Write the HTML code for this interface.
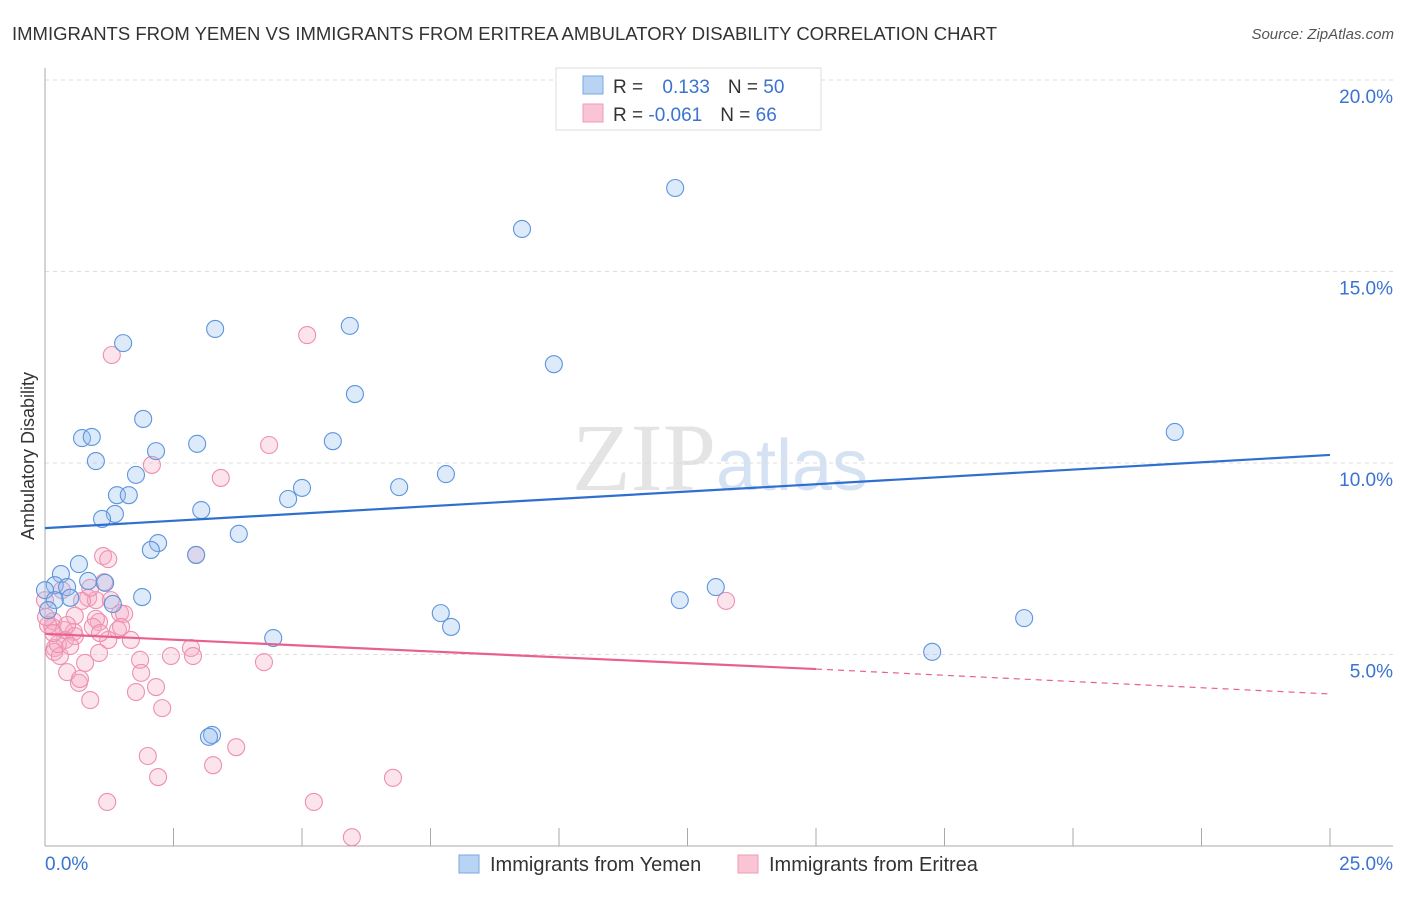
<!DOCTYPE html>
<html><head><meta charset="utf-8"><style>
body{margin:0;background:#fff;font-family:"Liberation Sans",sans-serif;}
</style></head><body>
<svg id="chart" width="1406" height="892" xmlns="http://www.w3.org/2000/svg" font-family="Liberation Sans, sans-serif">
<text x="12" y="40" font-size="18.5" fill="#333">IMMIGRANTS FROM YEMEN VS IMMIGRANTS FROM ERITREA AMBULATORY DISABILITY CORRELATION CHART</text>
<text x="1394" y="39" font-size="15" fill="#555" font-style="italic" text-anchor="end">Source: ZipAtlas.com</text>
<text x="720" y="490" font-size="96" fill="#e4e4e4" text-anchor="middle" font-family="Liberation Serif, serif">ZIP<tspan fill="#d5e2f3" font-family="Liberation Sans, sans-serif" font-size="72">atlas</tspan></text>
<text transform="translate(34,456) rotate(-90)" font-size="18" fill="#333" text-anchor="middle">Ambulatory Disability</text>
<g id="grid"></g><g id="axes"></g><g id="marks"></g>
<g>
<rect x="556" y="68" width="265" height="62" fill="#fff" stroke="#ddd"/>
<rect x="583" y="76" width="20" height="18" fill="#b8d3f3" stroke="#7aa8e0"/>
<rect x="583" y="104" width="20" height="18" fill="#f9c5d4" stroke="#f09ab5"/>
<text x="613" y="93" font-size="19" fill="#333">R = <tspan fill="#3a73d0" dx="14">0.133</tspan><tspan dx="18" fill="#333">N = </tspan><tspan fill="#3a73d0">50</tspan></text>
<text x="613" y="121" font-size="19" fill="#333">R = <tspan fill="#3a73d0">-0.061</tspan><tspan dx="18" fill="#333">N = </tspan><tspan fill="#3a73d0">66</tspan></text>
</g>
<g>
<rect x="459" y="855" width="20" height="18" fill="#b8d3f3" stroke="#7aa8e0"/>
<text x="490" y="871" font-size="20" fill="#333">Immigrants from Yemen</text>
<rect x="738" y="855" width="20" height="18" fill="#f9c5d4" stroke="#f09ab5"/>
<text x="769" y="871" font-size="20" fill="#333">Immigrants from Eritrea</text>
</g>
</svg>
<script>
const yemenX=[12.26,9.28,1.52,3.31,5.93,9.90,6.03,1.91,0.72,0.91,2.16,2.96,5.60,0.99,1.77,7.80,1.40,1.63,5.00,6.89,4.73,3.04,1.36,1.11,3.77,2.20,2.06,2.94,0.66,0.31,0.84,1.17,0.19,0.43,0,1.89,1.32,0.49,7.70,7.90,12.35,13.05,19.05,17.26,4.44,3.25,3.19,21.98,0.19,0.06];
const yemenY=[17.18,16.11,13.13,13.50,13.58,12.58,11.80,11.15,10.65,10.68,10.31,10.50,10.57,10.05,9.69,9.71,9.16,9.16,9.35,9.37,9.06,8.77,8.67,8.54,8.15,7.91,7.73,7.60,7.36,7.10,6.92,6.87,6.81,6.76,6.68,6.50,6.32,6.48,6.08,5.72,6.42,6.76,5.95,5.07,5.43,2.90,2.85,10.81,6.42,6.16];
const eritreaX=[1.30,5.10,4.36,2.08,3.42,1.13,1.23,2.94,1.15,0.84,0.99,0.72,1.46,1.54,1.05,0.99,0.58,0.16,0.14,0.37,0.56,1.42,1.48,1.67,1.23,0.39,0.19,0.18,0.29,0.78,1.05,1.85,2.45,2.84,2.88,4.26,0.43,1.87,0.66,0.68,2.16,1.77,0.88,2.28,13.25,0.88,0.33,0.06,3.72,2.00,3.27,2.20,6.77,1.21,5.23,5.97,0.43,0.58,0.93,0,0.25,0.49,1.28,1.07,0.16,0.02];
const eritreaY=[12.82,13.34,10.47,9.95,9.61,7.57,7.49,7.60,6.89,6.48,6.42,6.40,6.08,6.06,5.85,5.93,6.01,5.87,5.72,5.64,5.59,5.64,5.72,5.38,5.38,5.38,5.17,5.07,4.96,4.78,5.04,4.86,4.96,5.17,4.96,4.80,4.54,4.52,4.26,4.36,4.15,4.02,3.81,3.60,6.40,6.74,6.68,5.77,2.58,2.35,2.11,1.80,1.78,1.15,1.15,0.23,5.77,5.48,5.72,6.42,5.27,5.22,6.42,5.56,5.56,5.98];
const yemenTrend=[8.30,10.21];
const eritreaTrend=[5.54,4.62,3.97];
const yTicks=[5,10,15,20];
const yTickLabels=["5.0%","10.0%","15.0%","20.0%"];
const xTickCount=10;
const NS="http://www.w3.org/2000/svg";
const xs=v=>45+v*51.4, ys=v=>846-v*38.3;
function mk(tag,attrs,parent){const e=document.createElementNS(NS,tag);for(const k in attrs)e.setAttribute(k,attrs[k]);document.getElementById(parent).appendChild(e);return e;}
yTicks.forEach((t,i)=>{
 const g=mk('line',{x1:45,x2:1393,y1:ys(t),y2:ys(t),stroke:'#ddd','stroke-dasharray':'4,4'},'grid');
 
 
 const l=mk('text',{x:1393,y:ys(t)+23,'font-size':19,fill:'#3a73d0','text-anchor':'end'},'axes');
 l.textContent=yTickLabels[i];
 
 
});
let a=mk('line',{x1:45,x2:45,y1:68,y2:846,stroke:'#aaa'},'axes');


a=mk('line',{x1:45,x2:1393,y1:846,y2:846,stroke:'#aaa'},'axes');


for(let i=0;i<=xTickCount;i++){
 const t=mk('line',{x1:xs(i*2.5),x2:xs(i*2.5),y1:828,y2:846,stroke:'#aaa'},'axes');
 
 
}
let xl=mk('text',{x:45,y:870,'font-size':19,fill:'#3a73d0'},'axes');xl.textContent='0.0%';


xl=mk('text',{x:1393,y:870,'font-size':19,fill:'#3a73d0','text-anchor':'end'},'axes');xl.textContent='25.0%';


eritreaX.forEach((x,i)=>{
 const c=mk('circle',{cx:xs(x),cy:ys(eritreaY[i]),r:8.5,fill:'rgba(246,170,195,0.32)',stroke:'#ee8fb0','stroke-width':1.1},'marks');
 
 
});
yemenX.forEach((x,i)=>{
 const c=mk('circle',{cx:xs(x),cy:ys(yemenY[i]),r:8.5,fill:'rgba(150,190,240,0.32)',stroke:'#5d95dd','stroke-width':1.1},'marks');
 
 
});
let ln=mk('line',{x1:xs(0),y1:ys(yemenTrend[0]),x2:xs(25),y2:ys(yemenTrend[1]),stroke:'#2f6fd0','stroke-width':2.2},'marks');


ln=mk('line',{x1:xs(0),y1:ys(eritreaTrend[0]),x2:xs(15),y2:ys(eritreaTrend[1]),stroke:'#e8608f','stroke-width':2.2},'marks');


ln=mk('line',{x1:xs(15),y1:ys(eritreaTrend[1]),x2:xs(25),y2:ys(eritreaTrend[2]),stroke:'#e8608f','stroke-width':1.2,'stroke-dasharray':'6,5'},'marks');


</script>
</body></html>
